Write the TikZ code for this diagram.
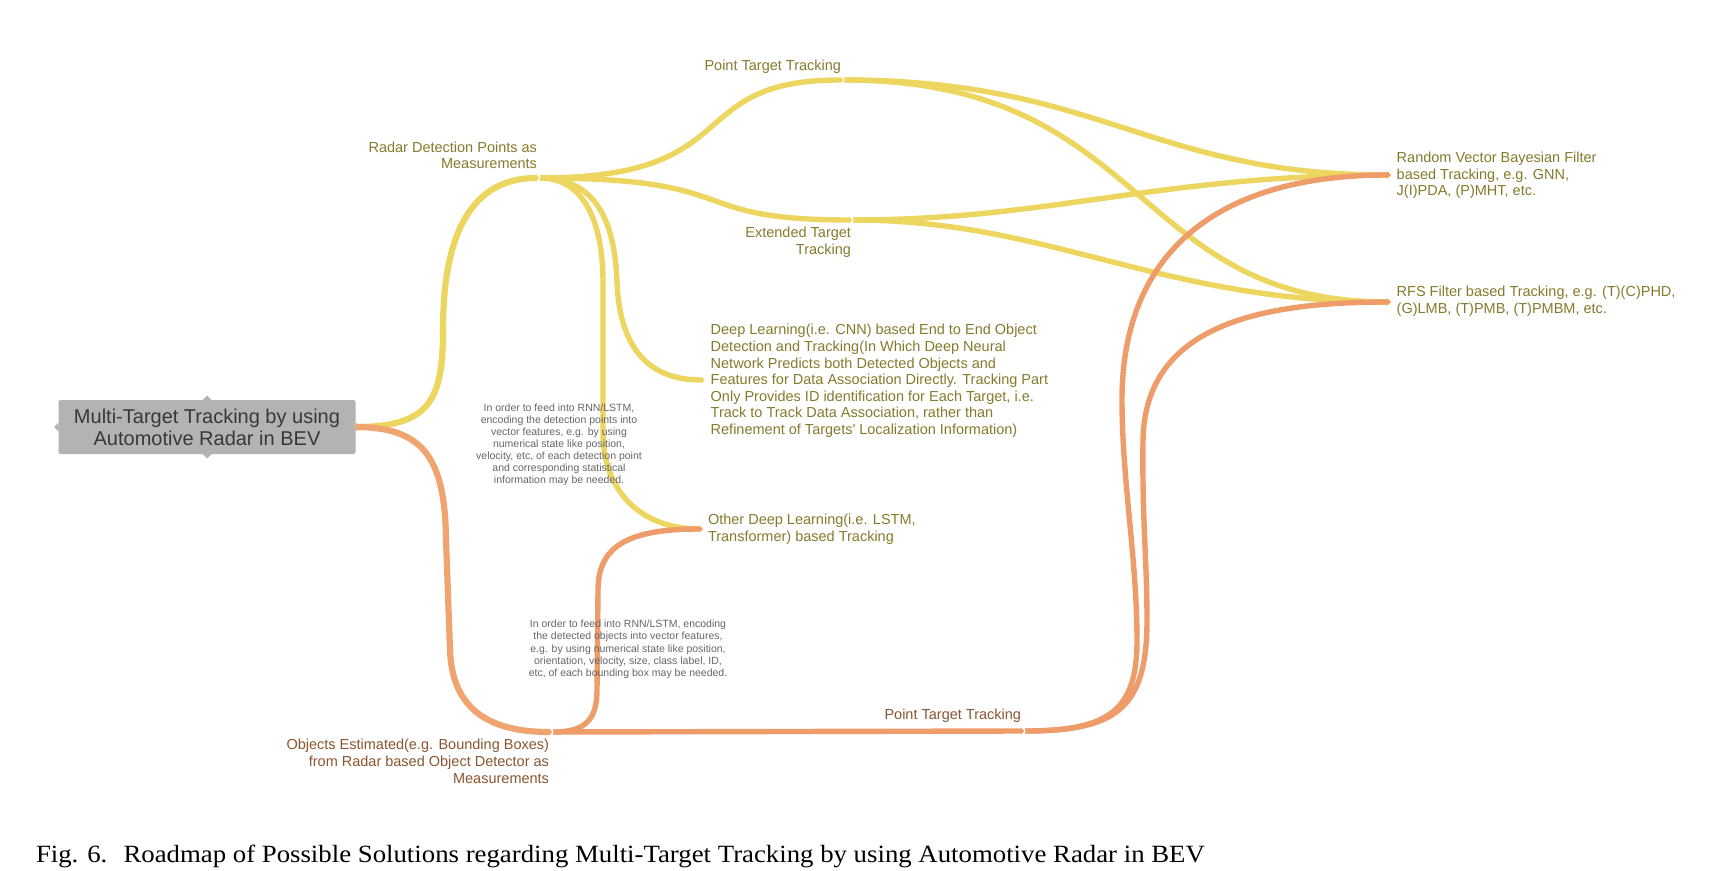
\documentclass[tikz,border=0pt]{standalone}
\usepackage{fontspec}
\setmainfont{Liberation Sans}
\newfontfamily\capfont{Liberation Serif}
\usepackage{tikz}
\usetikzlibrary{arrows.meta}
\definecolor{trackyellow}{HTML}{ECD660}
\definecolor{trackorange}{HTML}{EE9D6A}
\definecolor{rootorange}{HTML}{F0A570}
\definecolor{olivetext}{HTML}{857A2C}
\definecolor{browntext}{HTML}{8A5530}
\definecolor{notegray}{HTML}{666666}
\definecolor{rootgray}{HTML}{B3B3B3}
\definecolor{roottext}{HTML}{383838}
\tikzstyle{rootbox}=[fill=rootgray, text=roottext, rounded corners=1pt, align=center,
                     minimum width=148.5pt, minimum height=27pt, font=\fontsize{10}{11}\selectfont]
\tikzstyle{tlabel}=[text=olivetext, font=\fontsize{7.25}{8.3}\selectfont]
\tikzstyle{blabel}=[tlabel, text=browntext]
\tikzstyle{note}=[text=notegray, align=center, font=\fontsize{5.25}{6}\selectfont]
\tikzstyle{ylink}=[draw=trackyellow, line width=2.7pt, -{Triangle[length=2pt, width=3.4pt]}]
\tikzstyle{olink}=[ylink, draw=trackorange]
\tikzstyle{notch}=[draw=white, line width=0.5pt]
\tikzstyle{roadmap}=[x=0.5pt, y=-0.5pt,
                     % No padding for texts, positions are given at the glyphs.
                     every node/.style={inner sep=0, outer sep=0}]

\begin{document}
\begin{tikzpicture}[roadmap]
        \useasboundingbox (0, 0) rectangle (1712, 871);
        % Root and its four small pointers.
        \node[rootbox] (root) at (207, 427) {Multi-Target Tracking by using\\Automotive Radar in BEV};
        \fill[rootgray] (root.north) ++(-4.5, 0) -- ++(4.5, -4.5) -- ++(4.5, 4.5) -- cycle;
        \fill[rootgray] (root.south) ++(-4.5, 0) -- ++(4.5, 4.5) -- ++(4.5, -4.5) -- cycle;
        \fill[rootgray] (root.west) ++(0, -4.5) -- ++(-4.5, 4.5) -- ++(4.5, 4.5) -- cycle;
        \fill[rootgray] (root.east) ++(0, -4.5) -- ++(4.5, 4.5) -- ++(-4.5, 4.5) -- cycle;
        \coordinate (radar)   at (540, 178);
        \coordinate (ptA)     at (844, 80);
        \coordinate (ext)     at (853, 220);
        \coordinate (dl)      at (705, 380);
        \coordinate (odl)     at (703, 529);
        \coordinate (rvb)     at (1391, 175);
        \coordinate (rfs)     at (1391, 302);
        \coordinate (objects) at (553, 732);
        \coordinate (ptB)     at (1025, 731);
        % Branches from the radar detection points.
        \draw[ylink, line width=3.1pt] (root.east) .. controls (430, 427) and (443, 400) .. (443, 330)
                     .. controls (443, 220) and (480, 178) .. (radar);
        \draw[ylink] (radar) .. controls (750, 178) and (680, 80) .. (ptA);
        \draw[ylink] (radar) .. controls (750, 178) and (680, 220) .. (ext);
        \draw[ylink] (radar) .. controls (595, 178) and (615, 220) .. (617, 283)
                     .. controls (620, 350) and (650, 380) .. (dl);
        \draw[ylink] (radar) .. controls (580, 178) and (603, 215) .. (603, 283) -- (603, 433)
                     .. controls (603, 490) and (640, 529) .. (odl);
        \draw[ylink] (ptA) .. controls (1100, 80) and (1150, 175) .. (rvb);
        \draw[ylink] (ptA) .. controls (1150, 80) and (1130, 302) .. (rfs);
        \draw[ylink] (ext) .. controls (1050, 220) and (1160, 175) .. (rvb);
        \draw[ylink] (ext) .. controls (1050, 220) and (1160, 302) .. (rfs);
        % Branches from the estimated objects.
        \draw[olink, draw=rootorange, line width=3.1pt] (root.east) .. controls (425, 427) and (445, 460) .. (446, 540)
                     -- (450, 650) .. controls (452, 710) and (490, 732) .. (objects);
        \draw[olink] (objects) .. controls (585, 732) and (597, 720) .. (597, 690) -- (598, 590)
                     .. controls (598, 545) and (630, 529) .. (odl);
        \draw[olink] (objects) -- (ptB);
        \draw[olink] (ptB) .. controls (1110, 731) and (1137, 710) .. (1137, 640)
                     .. controls (1137, 560) and (1122, 480) .. (1122, 400)
                     .. controls (1122, 250) and (1220, 175) .. (rvb);
        \draw[olink] (ptB) .. controls (1115, 731) and (1147, 710) .. (1147, 620)
                     .. controls (1147, 560) and (1142, 520) .. (1143, 440)
                     .. controls (1145, 330) and (1250, 302) .. (rfs);
        \foreach \j in {radar, ptA, ext, objects, ptB}
            \draw[notch] ([shift={(-3, -4)}]\j) -- (\j) -- ([shift={(-3, 4)}]\j);
        % Texts.
        \node[tlabel, align=right, anchor=north east] (radarlbl) at (537, 141.5) {Radar Detection Points as\\Measurements};
        \node[tlabel, anchor=base east]               (ptAlbl)   at (841, 70.7)  {Point Target Tracking};
        \node[tlabel, align=right, anchor=north east] (extlbl)   at (851, 227.4) {Extended Target\\Tracking};
        \node[tlabel, align=left, anchor=north west]  (dllbl)    at (710.7, 324.4)
            {Deep Learning(i.e. CNN) based End to End Object\\Detection and Tracking(In Which Deep Neural\\Network Predicts both Detected Objects and\\Features for Data Association Directly. Tracking Part\\Only Provides ID identification for Each Target, i.e.\\Track to Track Data Association, rather than\\Refinement of Targets\textquotesingle\ Localization Information)};
        \node[tlabel, align=left, anchor=north west]  (odllbl)   at (708, 514.4) {Other Deep Learning(i.e. LSTM,\\Transformer) based Tracking};
        \node[tlabel, align=left, anchor=north west]  (rvblbl)   at (1396.7, 152.1) {Random Vector Bayesian Filter\\based Tracking, e.g. GNN,\\J(I)PDA, (P)MHT, etc.};
        \node[tlabel, align=left, anchor=north west]  (rfslbl)   at (1396.7, 286.4) {RFS Filter based Tracking, e.g. (T)(C)PHD,\\(G)LMB, (T)PMB, (T)PMBM, etc.};
        \node[blabel, align=right, anchor=north east] (objlbl)   at (549, 739.4) {Objects Estimated(e.g. Bounding Boxes)\\from Radar based Object Detector as\\Measurements};
        \node[blabel, anchor=base east]               (ptBlbl)   at (1021, 719) {Point Target Tracking};
        \node[note, anchor=north] (note1) at (559, 404)
            {In order to feed into RNN/LSTM,\\encoding the detection points into\\vector features, e.g. by using\\numerical state like position,\\velocity, etc, of each detection point\\and corresponding statistical\\information may be needed.};
        \node[note, anchor=north, font=\fontsize{5.25}{6.2}\selectfont] (note2) at (628, 619.6)
            {In order to feed into RNN/LSTM, encoding\\the detected objects into vector features,\\e.g. by using numerical state like position,\\orientation, velocity, size, class label, ID,\\etc, of each bounding box may be needed.};
        \node[anchor=base west, font=\capfont\fontsize{12.4}{14}\selectfont] (caption) at (36, 862)
            {\scalebox{1.08}[1]{Fig. 6.\hspace{0.6em}Roadmap of Possible Solutions regarding Multi-Target Tracking by using Automotive Radar in BEV}};
    \end{tikzpicture}
\end{document}
